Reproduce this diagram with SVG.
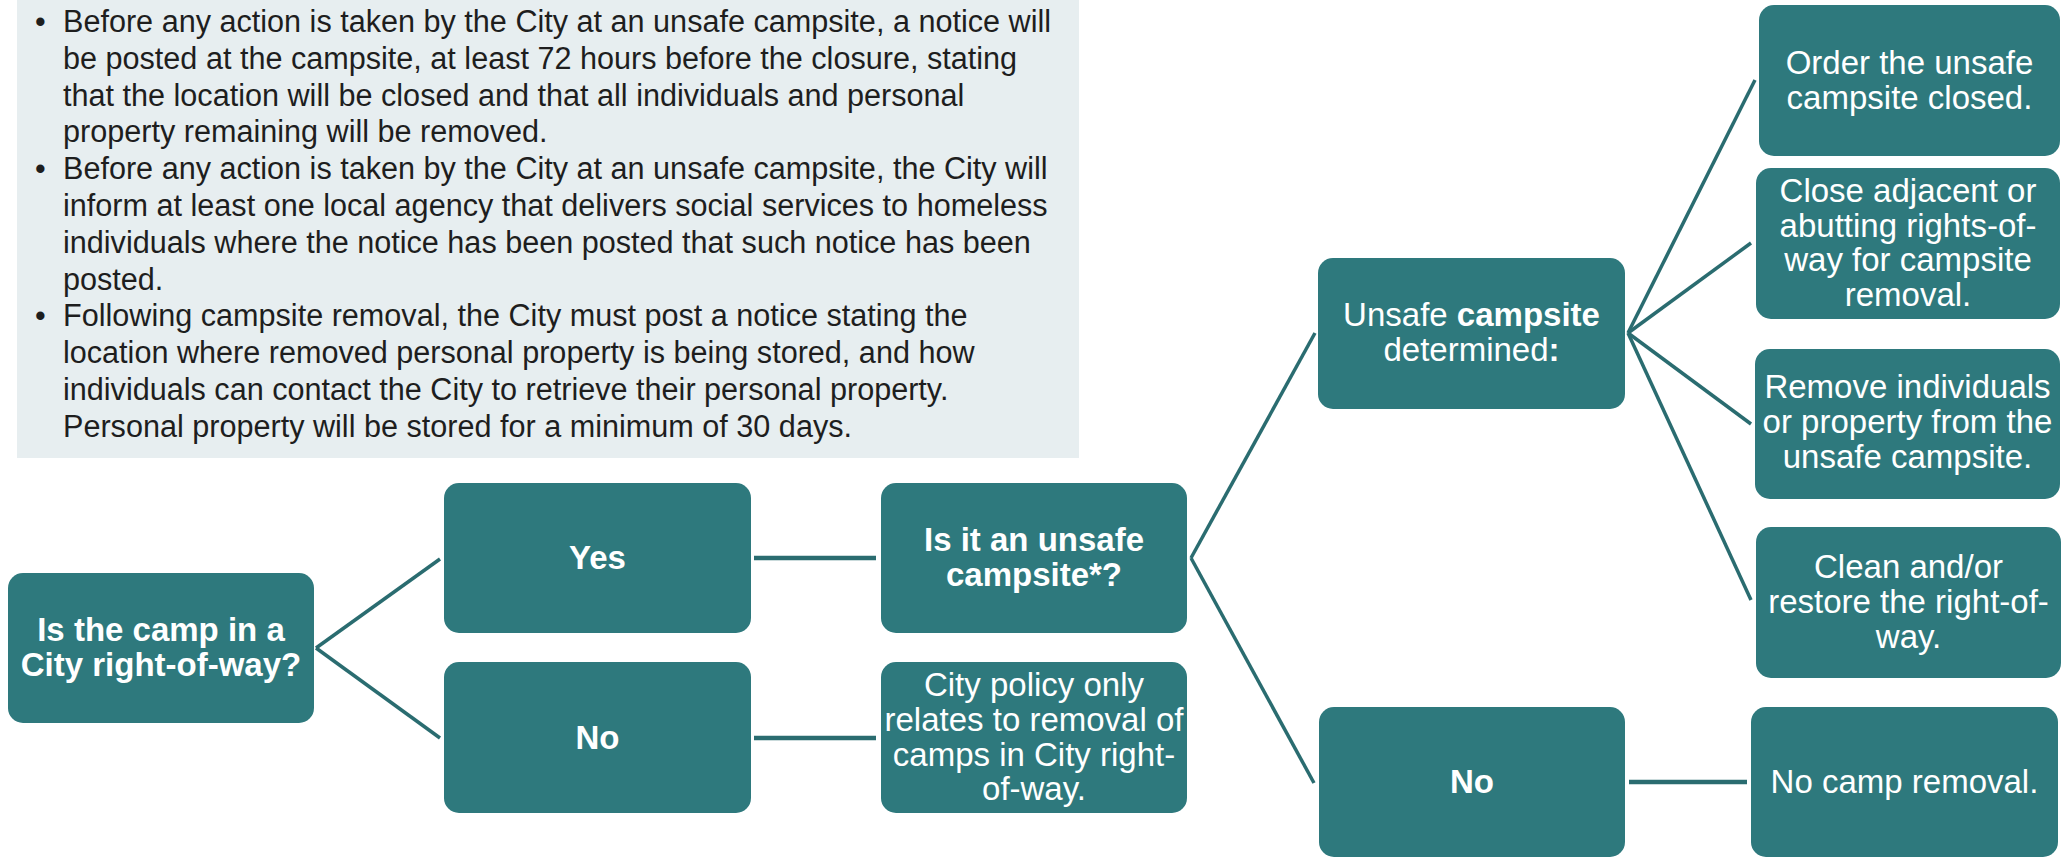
<svg xmlns="http://www.w3.org/2000/svg" width="2063" height="858" viewBox="0 0 2063 858">
<style>
.node{fill:#2E797D;}
.t{font-family:"Liberation Sans",Arial,sans-serif;font-size:33px;fill:#FFFFFF;text-anchor:middle;}
.b{font-weight:bold;}
.c{fill:none;stroke:#2A6C70;stroke-width:3.5;stroke-linecap:butt;}
.h{stroke-width:4.5;}
.note{font-family:"Liberation Sans",Arial,sans-serif;font-size:30.6px;fill:#1E1E1E;}
</style>
<rect x="17" y="0" width="1062" height="458" fill="#E7EEF0"/>
<g id="notes" class="note">
<text x="35" y="32">•</text>
<text x="63" y="32">Before any action is taken by the City at an unsafe campsite, a notice will</text>
<text x="63" y="69">be posted at the campsite, at least 72 hours before the closure, stating</text>
<text x="63" y="106">that the location will be closed and that all individuals and personal</text>
<text x="63" y="142">property remaining will be removed.</text>
<text x="35" y="179">•</text>
<text x="63" y="179">Before any action is taken by the City at an unsafe campsite, the City will</text>
<text x="63" y="216">inform at least one local agency that delivers social services to homeless</text>
<text x="63" y="253">individuals where the notice has been posted that such notice has been</text>
<text x="63" y="290">posted.</text>
<text x="35" y="326">•</text>
<text x="63" y="326">Following campsite removal, the City must post a notice stating the</text>
<text x="63" y="363">location where removed personal property is being stored, and how</text>
<text x="63" y="400">individuals can contact the City to retrieve their personal property.</text>
<text x="63" y="437">Personal property will be stored for a minimum of 30 days.</text>
</g>
<g id="connectors">
<line class="c" x1="316" y1="648" x2="440" y2="559"/>
<line class="c" x1="316" y1="648" x2="440" y2="738"/>
<line class="c h" x1="754" y1="558" x2="876" y2="558"/>
<line class="c h" x1="754" y1="738" x2="876" y2="738"/>
<line class="c" x1="1191" y1="558" x2="1315" y2="333"/>
<line class="c" x1="1191" y1="558" x2="1314" y2="783"/>
<line class="c" x1="1628" y1="333" x2="1755" y2="80"/>
<line class="c" x1="1628" y1="333" x2="1751" y2="243"/>
<line class="c" x1="1628" y1="333" x2="1751" y2="424"/>
<line class="c" x1="1628" y1="333" x2="1751" y2="600"/>
<line class="c h" x1="1629" y1="782" x2="1747" y2="782"/>
</g>
<g id="n-right-of-way">
<rect class="node" x="8" y="573" width="306" height="150" rx="15"/>
<text class="t b" x="161" y="641">Is the camp in a</text>
<text class="t b" x="161" y="676">City right-of-way?</text>
</g>
<g id="n-yes">
<rect class="node" x="444" y="483" width="307" height="150" rx="15"/>
<text class="t b" x="597.5" y="569">Yes</text>
</g>
<g id="n-no1">
<rect class="node" x="444" y="662" width="307" height="151" rx="15"/>
<text class="t b" x="597.5" y="749">No</text>
</g>
<g id="n-unsafe-q">
<rect class="node" x="881" y="483" width="306" height="150" rx="15"/>
<text class="t b" x="1034" y="551">Is it an unsafe</text>
<text class="t b" x="1034" y="586">campsite*?</text>
</g>
<g id="n-policy">
<rect class="node" x="881" y="662" width="306" height="151" rx="15"/>
<text class="t" x="1034" y="696">City policy only</text>
<text class="t" x="1034" y="731">relates to removal of</text>
<text class="t" x="1034" y="766">camps in City right-</text>
<text class="t" x="1034" y="800">of-way.</text>
</g>
<g id="n-unsafe-determined">
<rect class="node" x="1318" y="258" width="307" height="151" rx="15"/>
<text class="t" x="1471.5" y="326">Unsafe <tspan class="b">campsite</tspan></text>
<text class="t" x="1471.5" y="361">determined<tspan class="b">:</tspan></text>
</g>
<g id="n-order">
<rect class="node" x="1759" y="5" width="301" height="151" rx="15"/>
<text class="t" x="1909.5" y="74">Order the unsafe</text>
<text class="t" x="1909.5" y="109">campsite closed.</text>
</g>
<g id="n-close">
<rect class="node" x="1756" y="168" width="304" height="151" rx="15"/>
<text class="t" x="1908" y="202">Close adjacent or</text>
<text class="t" x="1908" y="237">abutting rights-of-</text>
<text class="t" x="1908" y="271">way for campsite</text>
<text class="t" x="1908" y="306">removal.</text>
</g>
<g id="n-remove">
<rect class="node" x="1755" y="349" width="305" height="150" rx="15"/>
<text class="t" x="1907.5" y="398">Remove individuals</text>
<text class="t" x="1907.5" y="433">or property from the</text>
<text class="t" x="1907.5" y="468">unsafe campsite.</text>
</g>
<g id="n-clean">
<rect class="node" x="1756" y="527" width="305" height="151" rx="15"/>
<text class="t" x="1908.5" y="578">Clean and/or</text>
<text class="t" x="1908.5" y="613">restore the right-of-</text>
<text class="t" x="1908.5" y="648">way.</text>
</g>
<g id="n-no2">
<rect class="node" x="1319" y="707" width="306" height="150" rx="15"/>
<text class="t b" x="1472" y="793">No</text>
</g>
<g id="n-no-removal">
<rect class="node" x="1751" y="707" width="307" height="150" rx="15"/>
<text class="t" x="1904.5" y="793">No camp removal.</text>
</g>
</svg>
